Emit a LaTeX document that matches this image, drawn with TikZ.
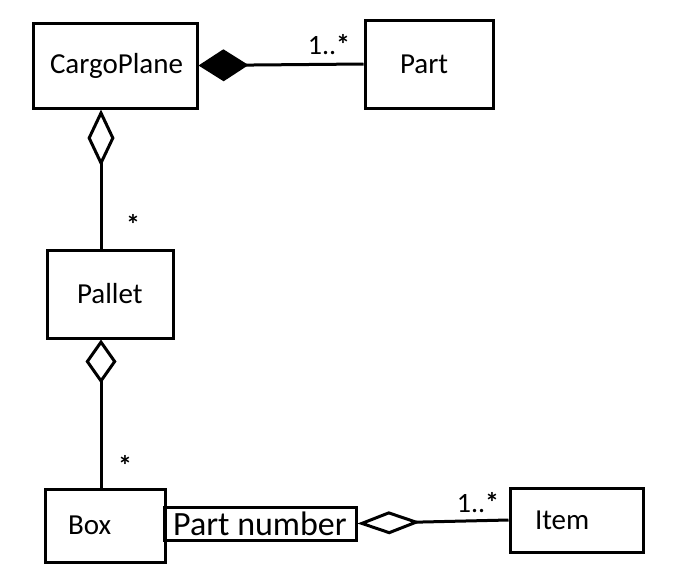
\documentclass[tikz,border=0pt]{standalone}
\usepackage{fontspec}
\setmainfont{Carlito}
\usetikzlibrary{arrows.meta}

\begin{document}
\begin{tikzpicture}[
x=1pt, y=-1pt,
cls/.style={draw, line width=3pt, align=left, inner ysep=0pt, font=\fontsize{29}{34}\selectfont},
attr/.style={draw, line width=3pt, align=center, inner sep=0pt, minimum width=192pt, minimum height=33pt, font=\fontsize{34}{38}\selectfont},
comp/.style={{Diamond[length=50pt, width=32pt]}-, line width=3pt},
aggr/.style={{Diamond[open, length=#1]}-, line width=3pt},
mult/.style={inner sep=0pt, font=\fontsize{28}{32}\selectfont}
]
\useasboundingbox (0,0) rectangle (676,576);

% classes
\node[cls, text width=130pt, inner xsep=17pt, minimum height=85pt] (plane) at (115,65.5) {CargoPlane};
\node[cls, text width=58pt, inner xsep=35pt, minimum height=88pt] (part) at (429,64) {Part};
\node[cls, text width=66pt, inner xsep=30pt, minimum height=88pt] (pallet) at (110,294) {Pallet};
\node[cls, text width=74pt, inner xsep=23pt, minimum height=73pt] (box) at (105,525.5) {Box};
\node[attr] (partno) at (260,523.5) {Part number};
\node[cls, text width=83pt, inner xsep=25pt, minimum height=64pt] (item) at (576.5,520) {Item};

% relations
\draw[comp] (plane.east) -- (part.west);
\draw[aggr={57pt, width=27pt}] ([xshift=-14pt]plane.south) -- ([xshift=-9pt]pallet.north);
\draw[aggr={44pt, width=31pt}] ([xshift=-9pt]pallet.south) -- ([xshift=-4pt]box.north);
\draw[aggr={63pt, width=23pt}] (partno.east) -- (item.west);

% multiplicities
\node[mult] (m1) at (329,45) {1..\textbf{*}};
\node[mult] (m2) at (133,224) {\textbf{*}};
\node[mult] (m3) at (125,465) {\textbf{*}};
\node[mult] (m4) at (478,503) {1..\textbf{*}};
\end{tikzpicture}
\end{document}
